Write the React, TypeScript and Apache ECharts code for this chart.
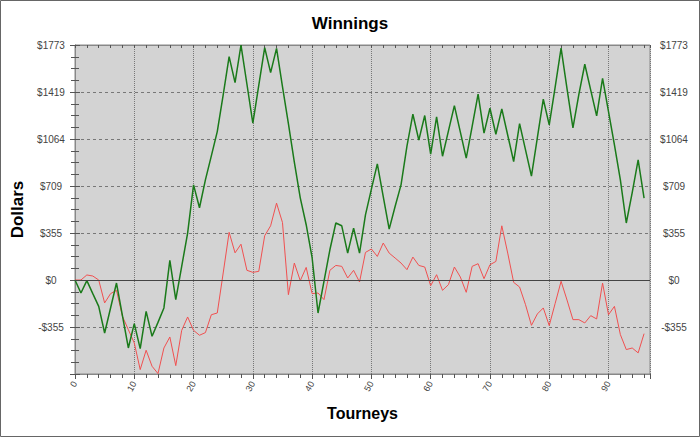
import React, { useEffect, useRef } from "react";
import * as echarts from "echarts";

const TITLE = "Winnings";
const X_NAME = "Tourneys";
const Y_NAME = "Dollars";

// Cumulative winnings (green) per tourney index 0..96
const winnings: number[] = [
  0, -98, -5, -103, -199, -400, -211, -23, -269, -513,
  -329, -518, -237, -425, -320, -211, 148, -148, 103, 354,
  718, 545, 756, 937, 1120, 1397, 1685, 1489, 1773, 1479,
  1183, 1468, 1753, 1565, 1748, 1460, 1180, 890, 620, 417,
  168, -249, -10, 228, 430, 409, 203, 392, 203, 492,
  686, 876, 630, 384, 555, 718, 1010, 1251, 1055, 1241,
  950, 1231, 934, 1125, 1316, 1118, 919, 1160, 1402, 1108,
  1296, 1100, 1291, 1092, 894, 1180, 982, 784, 1074, 1364,
  1170, 1456, 1750, 1444, 1148, 1400, 1628, 1433, 1238, 1522,
  1271, 1020, 756, 430, 660, 907, 618,
];

// Second series (red) per tourney index 0..96
const secondary: number[] = [
  0, 0, 38, 30, 0, -173, -103, -78, -274, -375,
  -475, -676, -530, -651, -706, -513, -430, -646, -380, -279,
  -380, -417, -397, -262, -249, 53, 360, 205, 270, 73,
  58, 65, 334, 409, 580, 434, -111, 128, -5, 95,
  -103, -98, -148, 73, 110, 103, 15, 73, -15, 208,
  234, 178, 279, 203, 166, 128, 78, 173, 110, 98,
  -43, 40, -78, -35, 98, 23, -93, 103, 123, 10,
  115, 140, 409, 203, -18, -53, -186, -342, -256, -211,
  -344, -177, -10, -151, -299, -299, -324, -269, -294, -23,
  -262, -199, -412, -525, -513, -550, -405,
];

const Y_STEP = 354.65;
const Y_MIN = -2 * Y_STEP;
const Y_MAX = 5 * Y_STEP;
const X_MIN = 0;
const X_MAX = 97;
const X_STEP = 10;

const fmtDollar = (v: number) => {
  const r = Math.round(v);
  return r < 0 ? "-$" + -r : "$" + r;
};

export default function App() {
  const ref = useRef<HTMLDivElement>(null);
  useEffect(() => {
    if (!ref.current) return;
    const chart = echarts.init(ref.current, undefined, { renderer: "svg" });
    const font = "'Liberation Sans', Arial, sans-serif";
    const yBase = {
      type: "value" as const,
      min: Y_MIN,
      max: Y_MAX,
      interval: Y_STEP,
      axisLine: { show: true, lineStyle: { color: "#888", width: 1 } },
      axisTick: { show: true, length: 5, lineStyle: { color: "#555" } },
      minorTick: { show: true, splitNumber: 4, length: 4, lineStyle: { color: "#555" } },
      axisLabel: {
        show: true,
        formatter: fmtDollar,
        showMinLabel: false,
        align: "center" as const,
        margin: 24,
        fontSize: 10,
        color: "#444",
        fontFamily: font,
      },
    };
    chart.setOption({
      animation: false,
      backgroundColor: "#ffffff",
      textStyle: { fontFamily: font },
      title: {
        text: TITLE,
        left: "center",
        top: 10,
        textStyle: { fontSize: 17, fontWeight: "bold", color: "#000", fontFamily: font },
      },
      grid: {
        left: 75,
        right: 50,
        top: 45,
        bottom: 63,
        show: true,
        backgroundColor: "#d3d3d3",
        borderColor: "#888",
        borderWidth: 1,
      },
      graphic: [
        {
          type: "rect",
          shape: { x: 0.5, y: 0.5, width: 699, height: 436 },
          style: { fill: "none", stroke: "#666", lineWidth: 1 },
          silent: true,
          z: 100,
        },
      ],
      xAxis: [
        {
          type: "value",
          position: "bottom",
          min: X_MIN,
          max: X_MAX,
          interval: X_STEP,
          name: X_NAME,
          nameLocation: "middle",
          nameGap: 31,
          nameTextStyle: { fontSize: 16, fontWeight: "bold", color: "#000", fontFamily: font },
          axisLine: { show: true, onZero: false, lineStyle: { color: "#888" } },
          axisTick: { show: true, length: 5, lineStyle: { color: "#555" } },
          minorTick: { show: true, splitNumber: 5, length: 4, lineStyle: { color: "#555" } },
          axisLabel: {
            rotate: 60,
            fontSize: 9,
            color: "#444",
            margin: 8,
            showMaxLabel: false,
            fontFamily: font,
          },
          splitLine: { show: true, lineStyle: { color: "#777", type: "dotted", width: 1 } },
        },
        {
          type: "value",
          position: "top",
          min: X_MIN,
          max: X_MAX,
          interval: X_STEP,
          axisLine: { show: true, onZero: false, lineStyle: { color: "#888" } },
          axisTick: { show: true, inside: true, length: 3, lineStyle: { color: "#555" } },
          minorTick: { show: true, splitNumber: 5, length: 3, lineStyle: { color: "#555" } },
          axisLabel: { show: false },
          splitLine: { show: false },
        },
      ],
      yAxis: [
        {
          ...yBase,
          position: "left",
          name: Y_NAME,
          nameLocation: "middle",
          nameGap: 45,
          nameRotate: 90,
          nameTextStyle: { fontSize: 17, fontWeight: "bold", color: "#000", fontFamily: font },
          splitLine: { show: true, lineStyle: { color: "#777", type: [3, 3], width: 1 } },
        },
        {
          ...yBase,
          position: "right",
          splitLine: { show: false },
        },
      ],
      series: [
        {
          type: "line",
          name: "secondary",
          data: secondary.map((v, i) => [i, v]),
          showSymbol: false,
          symbol: "none",
          lineStyle: { color: "#f05050", width: 1 },
          itemStyle: { color: "#f05050" },
          z: 3,
          markLine: {
            silent: true,
            symbol: ["none", "none"],
            label: { show: false },
            lineStyle: { color: "#444", type: "solid", width: 1 },
            data: [{ yAxis: 0 }],
          },
        },
        {
          type: "line",
          name: "winnings",
          data: winnings.map((v, i) => [i, v]),
          showSymbol: false,
          symbol: "none",
          lineStyle: { color: "#1a7a1a", width: 1.5 },
          itemStyle: { color: "#1a7a1a" },
          z: 4,
        },
      ],
    });
    return () => chart.dispose();
  }, []);
  return (
    <div
      ref={ref}
      style={{ position: "fixed", left: 0, top: 0, width: 700, height: 437 }}
    />
  );
}
